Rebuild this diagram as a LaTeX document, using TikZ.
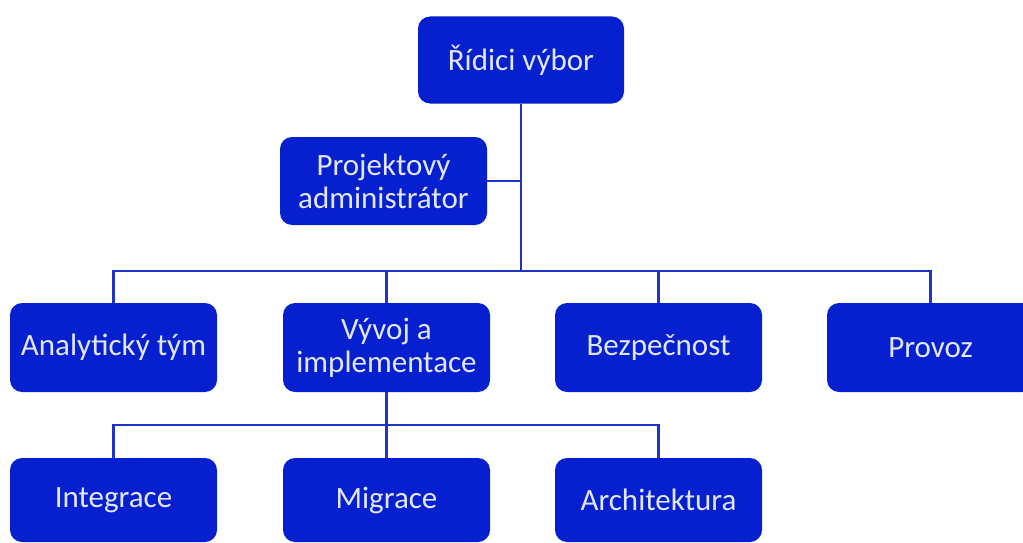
\documentclass[tikz,border=0pt]{standalone}
\usepackage{fontspec}
\setmainfont{Carlito}
\definecolor{boxblue}{RGB}{6,32,208}
\definecolor{lineblue}{RGB}{30,50,200}
\definecolor{txt}{RGB}{226,231,246}
\begin{document}
\begin{tikzpicture}[x=1pt,y=-1pt,
  orgbox/.style={rectangle, rounded corners=12pt, fill=boxblue, text=txt,
    minimum width=207pt, minimum height=88pt, inner sep=2pt, align=center,
    font=\fontsize{31}{33}\selectfont},
  conn/.style={draw=lineblue, line width=2.2pt}]
\clip (0,0) rectangle (1023,543);
\fill[white] (0,0) rectangle (1023,543);
\node[orgbox, minimum width=206pt, minimum height=87pt] (R) at (521,60) {Řídici výbor};
\node[orgbox] (PA) at (383.5,181) {Projektový\\administrátor};
\node[orgbox, minimum height=89pt] (AT) at (113.5,347.5) {Analytický tým};
\node[orgbox, minimum height=89pt] (VI) at (386.5,347.5) {Vývoj a\\implementace};
\node[orgbox, minimum height=89pt] (BE) at (658.5,347.5) {Bezpečnost};
\node[orgbox, minimum height=89pt] (PR) at (930.5,347.5) {Provoz};
\node[orgbox, minimum height=84pt] (IN) at (113.5,500) {Integrace};
\node[orgbox, minimum height=84pt] (MI) at (386.5,500) {Migrace};
\node[orgbox, minimum height=84pt] (AR) at (658.5,500) {Architektura};
\coordinate (b1) at (521,271);
\coordinate (b2) at (386.5,425);
\draw[conn] (R.south) -- (b1);
\draw[conn] (PA.east) -- (PA.east -| b1);
\draw[conn] (AT.north) |- (b1) -| (PR.north);
\draw[conn] (VI.north) -- (VI.north |- b1);
\draw[conn] (BE.north) -- (BE.north |- b1);
\draw[conn] (VI.south) -- (MI.north);
\draw[conn] (IN.north) |- (b2) -| (AR.north);
\end{tikzpicture}
\end{document}
